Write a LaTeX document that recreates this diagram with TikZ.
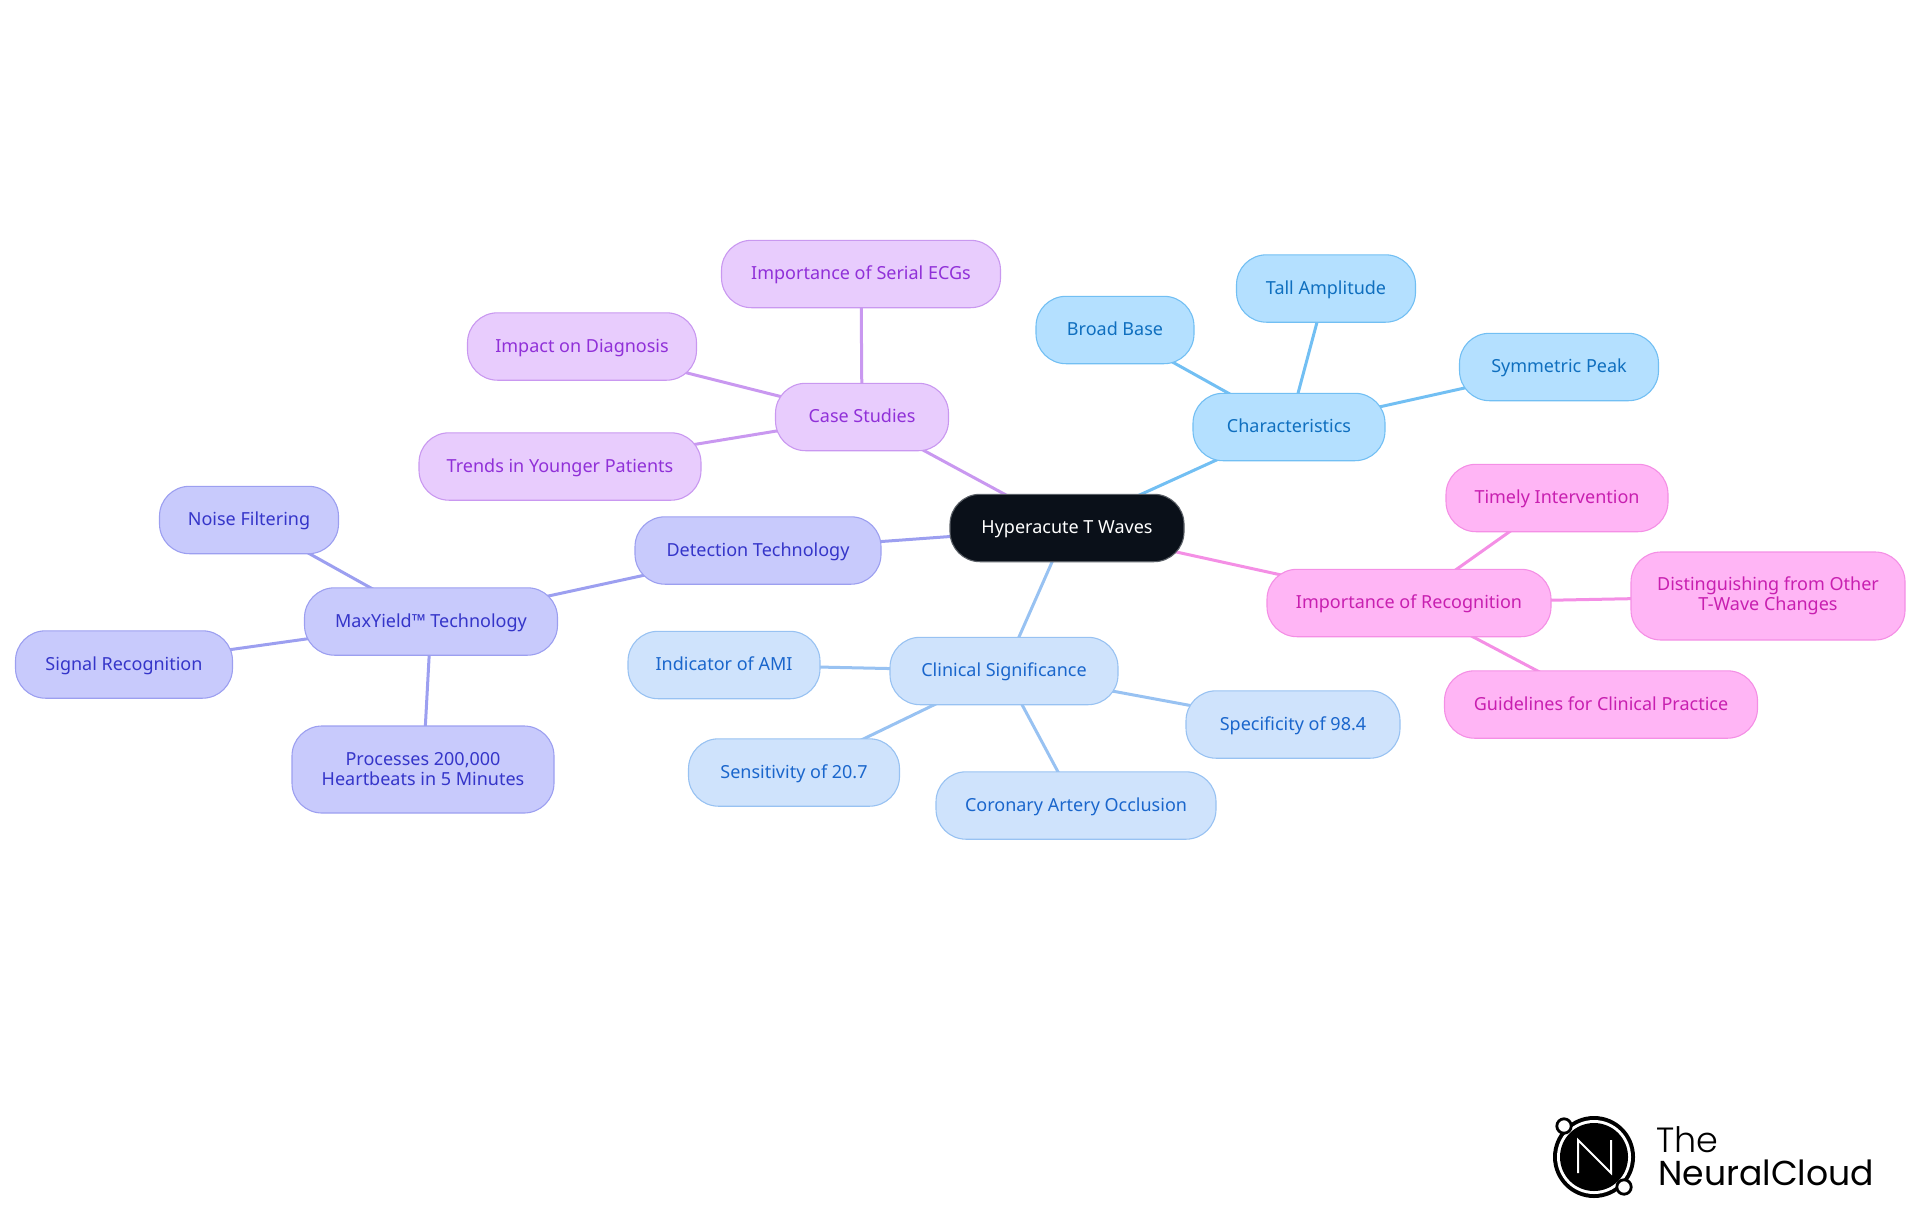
\documentclass[tikz,border=0pt]{standalone}
\usepackage{fontspec}
\usetikzlibrary{backgrounds}
\setmainfont{Noto Sans}
\newfontfamily\logofont{Poppins Light}
\newfontfamily\logofontb{Poppins}
\definecolor{rootfill}{HTML}{0A1019}
\definecolor{rootline}{HTML}{5A5F66}
\definecolor{charfill}{HTML}{B4E0FF}
\definecolor{charline}{HTML}{72BFF3}
\definecolor{chartext}{HTML}{0F6FBF}
\definecolor{clinfill}{HTML}{CFE3FC}
\definecolor{clinline}{HTML}{98C2F2}
\definecolor{clintext}{HTML}{1A66CC}
\definecolor{detfill}{HTML}{C8CAFC}
\definecolor{detline}{HTML}{9C9FF0}
\definecolor{dettext}{HTML}{3535C9}
\definecolor{casefill}{HTML}{E8CCFD}
\definecolor{caseline}{HTML}{C998F0}
\definecolor{casetext}{HTML}{9030D8}
\definecolor{impfill}{HTML}{FFB5F5}
\definecolor{impline}{HTML}{F48FE5}
\definecolor{imptext}{HTML}{C81FB0}
\tikzset{
  mind/.style={rounded corners=15pt,line width=0.55pt,align=center,inner sep=0pt,minimum height=33.7pt,
    font=\fontsize{9}{10}\selectfont},
  one/.style={text height=7.5pt,text depth=1.9pt},
  rootn/.style={mind,one,fill=rootfill,draw=rootline,text=white},
  charn/.style={mind,one,fill=charfill,draw=charline,text=chartext},
  clinn/.style={mind,one,fill=clinfill,draw=clinline,text=clintext},
  detn/.style={mind,one,fill=detfill,draw=detline,text=dettext},
  casen/.style={mind,one,fill=casefill,draw=caseline,text=casetext},
  impn/.style={mind,one,fill=impfill,draw=impline,text=imptext},
  detm/.style={mind,fill=detfill,draw=detline,text=dettext},
  impm/.style={mind,fill=impfill,draw=impline,text=imptext},
  edge/.style={line width=1.5pt},
  logotext/.style={inner sep=0pt,anchor=base west,text=black},
}
\begin{document}
\begin{tikzpicture}[x=0.5pt,y=-0.5pt]
\useasboundingbox (0,0) rectangle (1920,1215);
\node[rootn,minimum width=117pt] (root) at (1067,528) {Hyperacute T Waves};
\node[charn,minimum width=96pt] (char) at (1289,427) {Characteristics};
\node[charn,minimum width=79pt] (broad) at (1115,330) {Broad Base};
\node[charn,minimum width=89.5pt] (tall) at (1326,288.5) {Tall Amplitude};
\node[charn,minimum width=99.5pt] (sym) at (1559,367) {Symmetric Peak};
\node[impn,minimum width=142pt] (imp) at (1409,603) {Importance of Recognition};
\node[impn,minimum width=111pt] (timely) at (1557,498) {Timely Intervention};
\node[impm,minimum width=137pt,minimum height=44pt] (dist) at (1768,596) {Distinguishing from Other\\T-Wave Changes};
\node[impn,minimum width=156.5pt] (guide) at (1601,704.5) {Guidelines for Clinical Practice};
\node[clinn,minimum width=114pt] (clin) at (1004,671) {Clinical Significance};
\node[clinn,minimum width=96pt] (indic) at (724,665) {Indicator of AMI};
\node[clinn,minimum width=107pt] (spec) at (1293,724.5) {Specificity of 98.4};
\node[clinn,minimum width=105.5pt] (sens) at (794,772.5) {Sensitivity of 20.7};
\node[clinn,minimum width=140pt] (cor) at (1076,805.5) {Coronary Artery Occlusion};
\node[detn,minimum width=123pt] (det) at (758,550.5) {Detection Technology};
\node[detn,minimum width=126.5pt] (max) at (431,621.5) {MaxYield™ Technology};
\node[detn,minimum width=89.5pt] (noise) at (249,520) {Noise Filtering};
\node[detn,minimum width=108.5pt] (signal) at (124,664.5) {Signal Recognition};
\node[detm,minimum width=131pt,minimum height=43.5pt] (proc) at (423,769.5) {Processes 200,000\\Heartbeats in 5 Minutes};
\node[casen,minimum width=86.5pt] (case) at (862,417) {Case Studies};
\node[casen,minimum width=139.5pt] (serial) at (861,274) {Importance of Serial ECGs};
\node[casen,minimum width=114.5pt] (impact) at (582,346.5) {Impact on Diagnosis};
\node[casen,minimum width=141pt] (trends) at (560,466.5) {Trends in Younger Patients};
\begin{scope}[on background layer]
\draw[edge,charline] (root.center) -- (char.center);
\draw[edge,charline] (char.center) -- (broad.center);
\draw[edge,charline] (char.center) -- (tall.center);
\draw[edge,charline] (char.center) -- (sym.center);
\draw[edge,impline] (root.center) -- (imp.center);
\draw[edge,impline] (imp.center) -- (timely.center);
\draw[edge,impline] (imp.center) -- (dist.center);
\draw[edge,impline] (imp.center) -- (guide.center);
\draw[edge,clinline] (root.center) -- (clin.center);
\draw[edge,clinline] (clin.center) -- (indic.center);
\draw[edge,clinline] (clin.center) -- (spec.center);
\draw[edge,clinline] (clin.center) -- (sens.center);
\draw[edge,clinline] (clin.center) -- (cor.center);
\draw[edge,detline] (root.center) -- (det.center);
\draw[edge,detline] (det.center) -- (max.center);
\draw[edge,detline] (max.center) -- (noise.center);
\draw[edge,detline] (max.center) -- (signal.center);
\draw[edge,detline] (max.center) -- (proc.center);
\draw[edge,caseline] (root.center) -- (case.center);
\draw[edge,caseline] (case.center) -- (serial.center);
\draw[edge,caseline] (case.center) -- (impact.center);
\draw[edge,caseline] (case.center) -- (trends.center);
\end{scope}
% logo
\fill[black] (1594,1157) circle (20.5pt);
\fill[white] (1594,1157) circle (18.5pt);
\fill[black] (1594,1157) circle (17pt);
\draw[white,line width=1pt,line join=miter] (1578,1173) -- (1578,1140) -- (1611,1173) -- (1611,1140);
\draw[black,fill=white,line width=1.4pt] (1564,1126) circle (3.6pt);
\draw[black,fill=white,line width=1.4pt] (1624,1187) circle (3.6pt);
\node[logotext,font=\logofont\fontsize{17.5}{20}\selectfont] (logoa) at (1656,1152) {The};
\node[logotext,font=\logofontb\fontsize{17.3}{20}\selectfont] (logob) at (1658,1185) {NeuralCloud};
\end{tikzpicture}
\end{document}
